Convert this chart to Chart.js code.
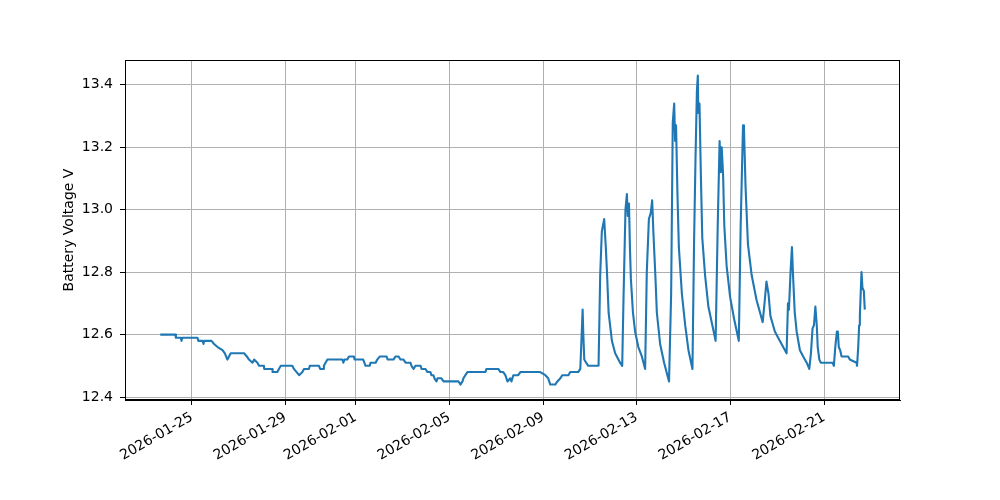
<!DOCTYPE html>
<html>
<head>
<meta charset="utf-8">
<script src="https://cdn.jsdelivr.net/npm/chart.js@4"></script>
<style>
  body { margin: 0; background: #fff; }
  #wrap { width: 1000px; height: 500px; }
</style>
</head>
<body>
<div id="wrap"><canvas id="batt"></canvas></div>
<script>
// time in days after 2026-01-25 00:00, voltage in V (rows line up one to one)
const days = [
  -1.35, -0.71, -0.68, -0.47, -0.44, -0.41, 0.24, 0.28, 0.46, 0.50, 0.52, 0.84, 0.95, 1.10, 1.31, 1.41, 1.52, 1.66,
  2.23, 2.35, 2.44, 2.59, 2.66, 2.80, 2.87, 3.08, 3.09, 3.44, 3.45, 3.65, 3.72, 3.80, 4.29, 4.36, 4.58, 4.72, 4.79,
  5.00, 5.04, 5.43, 5.48, 5.62, 5.64, 5.71, 5.79, 6.43, 6.47, 6.52, 6.64, 6.71, 6.92, 6.95, 7.32, 7.42, 7.60, 7.63,
  7.85, 7.92, 8.03, 8.32, 8.36, 8.61, 8.70, 8.83, 8.91, 9.04, 9.13, 9.34, 9.38, 9.47, 9.55, 9.77, 9.81, 9.98, 10.06,
  10.19, 10.23, 10.32, 10.36, 10.45, 10.49, 10.66, 10.75, 11.39, 11.47, 11.56, 11.60, 11.68, 11.77, 12.54, 12.58,
  13.09, 13.18, 13.30, 13.39, 13.48, 13.60, 13.65, 13.73, 13.94, 14.03, 14.88, 15.10, 15.22, 15.31, 15.52, 15.61,
  15.74, 15.82, 16.08, 16.16, 16.50, 16.59, 16.65, 16.69, 16.72, 16.76, 16.84, 16.93,
  17.37, 17.44, 17.51, 17.61, 17.68, 17.73, 17.80, 17.94, 18.08, 18.29, 18.38,
  18.44, 18.52, 18.58, 18.62, 18.67, 18.71, 18.75, 18.84, 18.93, 19.07, 19.22, 19.36,
  19.43, 19.52, 19.60, 19.66, 19.71, 19.79, 19.86, 20.00, 20.17, 20.38,
  20.47, 20.54, 20.60, 20.64, 20.68, 20.74, 20.80, 20.93, 21.07, 21.21, 21.38,
  21.45, 21.51, 21.57, 21.61, 21.63, 21.68, 21.74, 21.80, 21.92, 22.06, 22.23, 22.37,
  22.46, 22.54, 22.59, 22.63, 22.69, 22.74, 22.84, 22.99, 23.16, 23.36,
  23.44, 23.54, 23.58, 23.65, 23.75, 23.91, 24.12, 24.38,
  24.47, 24.54, 24.63, 24.71, 24.90, 25.11, 25.33, 25.40,
  25.46, 25.50, 25.57, 25.63, 25.67, 25.75, 25.83, 25.97, 26.11, 26.26, 26.37,
  26.44, 26.51, 26.57, 26.63, 26.69, 26.73, 26.80, 26.86, 27.36,
  27.42, 27.48, 27.55, 27.59, 27.63, 27.69, 27.75, 28.03, 28.10, 28.39, 28.41,
  28.46, 28.50, 28.53, 28.60, 28.64, 28.70, 28.74
]
const volts = [
  12.60, 12.60, 12.59, 12.59, 12.58, 12.59, 12.59, 12.58, 12.58, 12.57, 12.58, 12.58, 12.57, 12.56, 12.55, 12.54, 12.52, 12.54,
  12.54, 12.53, 12.52, 12.51, 12.52, 12.51, 12.50, 12.50, 12.49, 12.49, 12.48, 12.48, 12.49, 12.50, 12.50, 12.49, 12.47, 12.48, 12.49,
  12.49, 12.50, 12.50, 12.49, 12.49, 12.50, 12.51, 12.52, 12.52, 12.51, 12.52, 12.52, 12.53, 12.53, 12.52, 12.52, 12.50, 12.50, 12.51,
  12.51, 12.52, 12.53, 12.53, 12.52, 12.52, 12.53, 12.53, 12.52, 12.52, 12.51, 12.51, 12.50, 12.49, 12.50, 12.50, 12.49, 12.49, 12.48,
  12.48, 12.47, 12.47, 12.46, 12.45, 12.46, 12.46, 12.45, 12.45, 12.44, 12.45, 12.46, 12.47, 12.48, 12.48, 12.49,
  12.49, 12.48, 12.48, 12.47, 12.45, 12.46, 12.45, 12.47, 12.47, 12.48, 12.48, 12.47, 12.46, 12.44, 12.44, 12.45,
  12.46, 12.47, 12.47, 12.48, 12.48, 12.49, 12.60, 12.68, 12.60, 12.52, 12.51, 12.50,
  12.50, 12.79, 12.93, 12.97, 12.88, 12.80, 12.67, 12.58, 12.54, 12.51, 12.50,
  12.73, 13.00, 13.05, 12.98, 13.02, 12.88, 12.78, 12.67, 12.61, 12.56, 12.53, 12.49,
  12.80, 12.97, 12.99, 13.03, 12.93, 12.80, 12.67, 12.57, 12.51, 12.45,
  12.73, 13.28, 13.34, 13.22, 13.27, 13.05, 12.88, 12.73, 12.63, 12.55, 12.49,
  12.90, 13.16, 13.38, 13.43, 13.31, 13.34, 13.11, 12.91, 12.79, 12.69, 12.63, 12.58,
  12.95, 13.22, 13.12, 13.20, 13.11, 12.95, 12.82, 12.72, 12.65, 12.58,
  12.95, 13.27, 13.26, 13.07, 12.89, 12.79, 12.71, 12.64,
  12.71, 12.77, 12.73, 12.66, 12.61, 12.58, 12.55, 12.54,
  12.70, 12.68, 12.80, 12.88, 12.80, 12.67, 12.61, 12.55, 12.53, 12.51, 12.49,
  12.54, 12.62, 12.63, 12.69, 12.63, 12.56, 12.52, 12.51, 12.51,
  12.50, 12.56, 12.61, 12.61, 12.56, 12.55, 12.53, 12.53, 12.52, 12.51, 12.50,
  12.56, 12.63, 12.66, 12.80, 12.75, 12.74, 12.68
]
const dateTicks = ['2026-01-25', '2026-01-29', '2026-02-01', '2026-02-05', '2026-02-09', '2026-02-13', '2026-02-17', '2026-02-21']
const voltTicks = [12.4, 12.6, 12.8, 13.0, 13.2, 13.4]

const base = Date.UTC(2026, 0, 25)
const dayTickVals = dateTicks.map(s => (Date.parse(s + 'T00:00:00Z') - base) / 86400000)

// matplotlib style 5% margins
const xSpan = days[days.length - 1] - days[0]
const ySpan = Math.max(...volts) - Math.min(...volts)
const xMin = days[0] - 0.05 * xSpan, xMax = days[days.length - 1] + 0.05 * xSpan
const yMin = Math.min(...volts) - 0.05 * ySpan, yMax = Math.max(...volts) + 0.05 * ySpan

const font = { family: 'DejaVu Sans', size: 14 }

const frame = {
  id: 'frame',
  afterDraw(chart) {
    const { ctx, chartArea: a } = chart
    ctx.save()
    ctx.strokeStyle = '#000'
    ctx.lineWidth = 1
    ctx.strokeRect(a.left + 0.5, a.top + 0.5, a.right - a.left - 1, a.bottom - a.top - 1)
    ctx.restore()
  }
}

new Chart(document.getElementById('batt'), {
  type: 'line',
  data: {
    datasets: [{
      data: days.map((d, i) => ({ x: d, y: volts[i] })),
      borderColor: '#1f77b4',
      borderWidth: 2.1,
      borderJoinStyle: 'round',
      pointRadius: 0,
      tension: 0,
      fill: false
    }]
  },
  options: {
    responsive: true,
    maintainAspectRatio: false,
    animation: false,
    devicePixelRatio: 1,
    layout: { padding: { left: 57, right: 100, top: 60, bottom: 0 } },
    plugins: { legend: { display: false }, tooltip: { enabled: false } },
    scales: {
      x: {
        type: 'linear',
        min: xMin,
        max: xMax,
        afterBuildTicks: s => { s.ticks = dayTickVals.map(v => ({ value: v })) },
        afterFit: s => { s.height = 100 },
        ticks: {
          autoSkip: false,
          minRotation: 30,
          maxRotation: 30,
          padding: 4,
          color: '#000',
          font: font,
          callback: (v, i) => dateTicks[i]
        },
        grid: { color: '#b0b0b0', lineWidth: 1, tickColor: '#000', tickLength: 5, tickWidth: 1 },
        border: { color: '#000', width: 1 }
      },
      y: {
        min: yMin,
        max: yMax,
        afterBuildTicks: s => { s.ticks = voltTicks.map(v => ({ value: v })) },
        afterFit: s => { s.width = 68 },
        ticks: {
          padding: 7,
          color: '#000',
          font: font,
          callback: v => v.toFixed(1)
        },
        title: { display: true, text: 'Battery Voltage V', color: '#000', font: font, padding: 4 },
        grid: { color: '#b0b0b0', lineWidth: 1, tickColor: '#000', tickLength: 5, tickWidth: 1 },
        border: { color: '#000', width: 1 }
      }
    }
  },
  plugins: [frame]
})
</script>
</body>
</html>
